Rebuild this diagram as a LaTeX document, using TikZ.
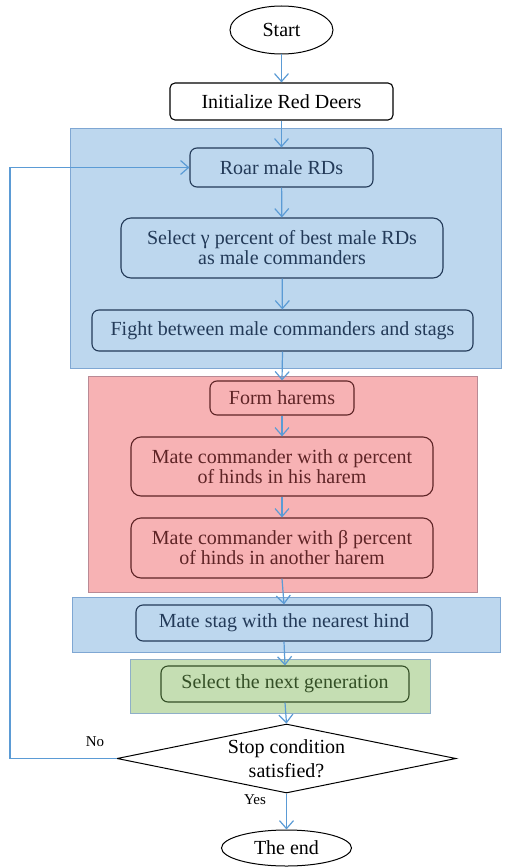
\documentclass[tikz,border=0pt]{standalone}
\usepackage{fontspec}
\setmainfont{Liberation Serif}
\usetikzlibrary{shapes.geometric,arrows.meta}
\definecolor{bluefill}{HTML}{BDD7EE}
\definecolor{blueframe}{HTML}{7FA7D3}
\definecolor{redfill}{HTML}{F7B2B4}
\definecolor{redframe}{HTML}{B98A95}
\definecolor{greenfill}{HTML}{C5DEB3}
\definecolor{greenframe}{HTML}{8FAFC8}
\definecolor{arrowblue}{HTML}{5B9BD5}
\definecolor{navy}{HTML}{233A58}
\definecolor{darkred}{HTML}{5E2426}
\definecolor{darkgreen}{HTML}{344F26}

\begin{document}
\begin{tikzpicture}[x=1pt,y=-1pt,font=\fontsize{20}{20}\selectfont,
   flow/.style={-{Straight Barb[length=8pt,width=14pt]},draw=arrowblue,line width=1.2pt},
   term/.style={ellipse,draw,line width=1pt,inner sep=0pt},
   stepbox/.style={draw,rounded corners=7pt,line width=1.1pt,inner sep=0pt,align=center},
   cond/.style={diamond,draw,line width=1pt,inner sep=0pt,align=center,shape aspect=4.9},
   lbl/.style={font=\fontsize{15}{15}\selectfont}]
   \useasboundingbox (0,0) rectangle (504,867);

   % coloured blocks
   \draw[fill=bluefill,draw=blueframe,line width=1pt] (70,128) rectangle (501,368);
   \draw[fill=redfill,draw=redframe,line width=1pt] (88,376) rectangle (477,592);
   \draw[fill=bluefill,draw=blueframe,line width=1pt] (72,597) rectangle (500,652);
   \draw[fill=greenfill,draw=greenframe,line width=1pt] (130,659) rectangle (430,713);

   \node[term,minimum width=103pt,minimum height=48pt] (a0) at (281.5,30) {Start};
   \node[stepbox,minimum width=223pt,minimum height=37pt,rounded corners=5pt] (a1) at (281.5,101.5) {Initialize Red Deers};
   \node[stepbox,draw=navy,text=navy,minimum width=183pt,minimum height=39pt] (a2) at (281.5,167.5) {Roar male RDs};
   \node[stepbox,draw=navy,text=navy,minimum width=322pt,minimum height=60pt,rounded corners=10pt] (a3) at (282,248) {Select γ percent of best male RDs\\as male commanders};
   \node[stepbox,draw=navy,text=navy,minimum width=381pt,minimum height=41pt] (a4) at (282.5,330.5) {Fight between male commanders and stags};
   \node[stepbox,draw=darkred,text=darkred,minimum width=144pt,minimum height=34pt] (a5) at (282,398) {Form harems};
   \node[stepbox,draw=darkred,text=darkred,minimum width=302pt,minimum height=59pt,rounded corners=10pt] (a6) at (282,466.5) {Mate commander with α percent\\of hinds in his harem};
   \node[stepbox,draw=darkred,text=darkred,minimum width=302pt,minimum height=60pt,rounded corners=10pt] (a7) at (282,548) {Mate commander with β percent\\of hinds in another harem};
   \node[stepbox,draw=navy,text=navy,minimum width=296pt,minimum height=36pt] (a8) at (284,623) {Mate stag with the nearest hind};
   \node[stepbox,draw=darkgreen,text=darkgreen,minimum width=248pt,minimum height=36pt] (a9) at (285,684) {Select the next generation};
   \node[cond,minimum width=339pt,minimum height=69pt] (a10) at (286.5,758.5) {Stop condition\\[4pt]satisfied?};
   \node[term,minimum width=130pt,minimum height=36pt] (a11) at (286.5,848) {The end};

   \node[lbl] (n0) at (95,742) {No};
   \node[lbl] (n1) at (255,800) {Yes};
   \coordinate (c0) at (10,167.5);

   \path (a0) edge[flow] (a1);
   \path (a1) edge[flow] (a2);
   \path (a2) edge[flow] (a3);
   \path (a3) edge[flow] (a4);
   \path (a4.south) edge[flow] (a5.north);
   \path (a5) edge[flow] (a6);
   \path (a6) edge[flow] (a7);
   \path (a7.south) edge[flow] (a8.north);
   \path (a8.south) edge[flow] (a9.north);
   \path (a9.south) edge[flow] (a10.north);
   \path (a10.south) edge[flow] (a11.north);
   \draw[flow] (a10.west) -| (c0) -- (a2.west);

\end{tikzpicture}
\end{document}
